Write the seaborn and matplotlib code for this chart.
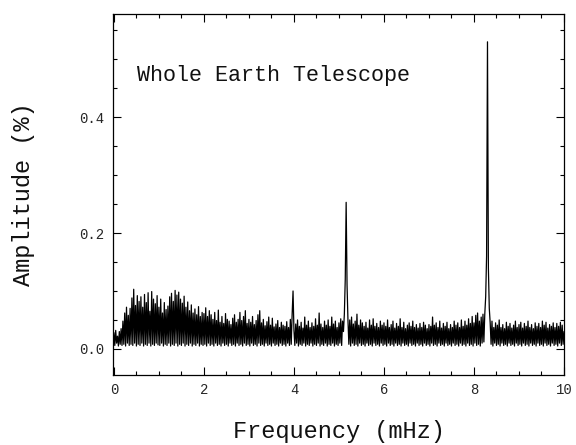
import numpy as np
import pandas as pd
import matplotlib
matplotlib.use("Agg")
import matplotlib.pyplot as plt
from matplotlib.ticker import MultipleLocator
import seaborn as sns

# Amplitude (%) sampled every 0.02 mHz, one list per 1-mHz band
amp_0 = [0.028,0.006,0.032,0.010,0.022,0.005,0.030,0.008,0.035,0.006,
         0.048,0.008,0.062,0.005,0.072,0.010,0.058,0.006,0.070,0.008,
         0.088,0.006,0.103,0.010,0.075,0.005,0.092,0.008,0.082,0.006,
         0.090,0.010,0.072,0.005,0.094,0.008,0.080,0.006,0.097,0.010,
         0.065,0.005,0.099,0.008,0.086,0.006,0.078,0.010,0.092,0.007]
amp_1 = [0.072,0.006,0.086,0.010,0.062,0.005,0.080,0.008,0.068,0.006,
         0.074,0.010,0.090,0.005,0.096,0.008,0.082,0.006,0.101,0.010,
         0.093,0.005,0.098,0.008,0.086,0.006,0.079,0.010,0.091,0.005,
         0.072,0.008,0.081,0.006,0.066,0.010,0.076,0.005,0.062,0.008,
         0.069,0.006,0.059,0.010,0.073,0.005,0.056,0.008,0.063,0.006]
amp_2 = [0.061,0.008,0.071,0.005,0.056,0.010,0.066,0.006,0.059,0.008,
         0.051,0.005,0.063,0.010,0.049,0.006,0.067,0.008,0.046,0.005,
         0.056,0.010,0.044,0.006,0.061,0.008,0.051,0.005,0.048,0.010,
         0.042,0.006,0.053,0.008,0.059,0.005,0.046,0.010,0.051,0.006,
         0.063,0.008,0.049,0.005,0.056,0.010,0.066,0.006,0.044,0.008]
amp_3 = [0.051,0.005,0.046,0.010,0.056,0.006,0.042,0.008,0.049,0.005,
         0.059,0.010,0.066,0.006,0.045,0.008,0.051,0.005,0.040,0.010,
         0.047,0.006,0.055,0.008,0.041,0.005,0.053,0.010,0.038,0.006,
         0.043,0.008,0.049,0.005,0.037,0.010,0.046,0.006,0.041,0.008,
         0.039,0.005,0.047,0.010,0.037,0.006,0.051,0.008,0.060,0.100]
amp_4 = [0.032,0.006,0.043,0.010,0.050,0.005,0.039,0.008,0.046,0.006,
         0.036,0.010,0.055,0.005,0.041,0.008,0.048,0.006,0.037,0.010,
         0.045,0.005,0.039,0.008,0.052,0.006,0.041,0.010,0.062,0.005,
         0.043,0.008,0.037,0.006,0.048,0.010,0.041,0.005,0.050,0.008,
         0.039,0.006,0.055,0.010,0.043,0.005,0.048,0.008,0.037,0.006]
amp_5 = [0.045,0.010,0.052,0.006,0.048,0.030,0.060,0.120,0.253,0.110,
         0.050,0.008,0.050,0.005,0.055,0.010,0.043,0.006,0.048,0.008,
         0.060,0.005,0.041,0.010,0.050,0.006,0.045,0.008,0.039,0.005,
         0.046,0.010,0.036,0.006,0.050,0.008,0.041,0.005,0.052,0.010,
         0.039,0.006,0.044,0.008,0.037,0.005,0.048,0.010,0.041,0.006]
amp_6 = [0.045,0.008,0.039,0.005,0.050,0.010,0.037,0.006,0.042,0.008,
         0.048,0.005,0.036,0.010,0.044,0.006,0.039,0.008,0.052,0.005,
         0.037,0.010,0.046,0.006,0.035,0.008,0.041,0.005,0.045,0.010,
         0.039,0.006,0.048,0.008,0.037,0.005,0.042,0.010,0.036,0.006,
         0.044,0.008,0.037,0.005,0.046,0.010,0.041,0.006,0.035,0.008]
amp_7 = [0.042,0.005,0.039,0.010,0.055,0.006,0.041,0.008,0.045,0.005,
         0.037,0.010,0.048,0.006,0.036,0.008,0.044,0.005,0.039,0.010,
         0.046,0.006,0.035,0.008,0.042,0.005,0.037,0.010,0.048,0.006,
         0.041,0.008,0.045,0.005,0.037,0.010,0.050,0.006,0.039,0.008,
         0.048,0.005,0.041,0.010,0.052,0.006,0.044,0.008,0.056,0.005]
amp_8 = [0.045,0.010,0.058,0.006,0.062,0.008,0.048,0.005,0.055,0.010,
         0.060,0.012,0.060,0.090,0.160,0.530,0.140,0.070,0.045,0.008,
         0.048,0.005,0.037,0.010,0.045,0.006,0.041,0.008,0.050,0.005,
         0.037,0.010,0.042,0.006,0.035,0.008,0.046,0.005,0.039,0.010,
         0.044,0.006,0.036,0.008,0.041,0.005,0.048,0.010,0.037,0.006]
amp_9 = [0.042,0.008,0.046,0.005,0.036,0.010,0.044,0.006,0.039,0.008,
         0.048,0.005,0.037,0.010,0.042,0.006,0.035,0.008,0.045,0.005,
         0.039,0.010,0.044,0.006,0.037,0.008,0.048,0.005,0.041,0.010,
         0.046,0.006,0.036,0.008,0.042,0.005,0.039,0.010,0.045,0.006,
         0.037,0.008,0.044,0.005,0.039,0.010,0.046,0.006,0.041,0.008,
         0.030]

amplitude = amp_0 + amp_1 + amp_2 + amp_3 + amp_4 + amp_5 + amp_6 + amp_7 + amp_8 + amp_9
freq_step = 0.02
frequency = np.arange(len(amplitude)) * freq_step

x_ticks = [0, 2, 4, 6, 8, 10]
y_ticks = [0.0, 0.2, 0.4]
title_text = "Whole Earth Telescope"

df = pd.DataFrame({"Frequency": frequency, "Amplitude": amplitude})

sns.set_style("ticks")
plt.rcParams['font.family'] = ['Liberation Mono', 'DejaVu Serif']
plt.rcParams['path.simplify'] = False

fig = plt.figure(figsize=(5.76, 4.45), dpi=100)
ax = fig.add_axes([113/576, 1 - 375/445, (564 - 113)/576, (375 - 14)/445])

sns.lineplot(data=df, x="Frequency", y="Amplitude", ax=ax, color="black",
             linewidth=0.9, estimator=None, sort=False)

ax.set_xlim(-0.02, 10.0)
ax.set_ylim(-0.045, 0.578)
ax.set_xticks(x_ticks)
ax.set_xticklabels([str(t) for t in x_ticks])
ax.set_yticks(y_ticks)
ax.set_yticklabels([f"{t:.1f}" for t in y_ticks])
ax.xaxis.set_minor_locator(MultipleLocator(0.5))
ax.yaxis.set_minor_locator(MultipleLocator(0.05))
ax.tick_params(which="both", direction="in", top=True, right=True, width=0.8, color="black")
ax.tick_params(which="major", length=5.5, labelsize=10, pad=6)
ax.tick_params(which="minor", length=3)
for s in ax.spines.values():
    s.set_linewidth(0.9)
    s.set_color("black")

ax.set_xlabel("Frequency (mHz)", fontsize=17, labelpad=16, color="#111111")
ax.set_ylabel("Amplitude (%)", fontsize=17, labelpad=32, color="#111111")
ax.text(0.51, 0.472, title_text, fontsize=15.7, va="center", ha="left", color="#111111")

fig.savefig("out.png", dpi=100)
